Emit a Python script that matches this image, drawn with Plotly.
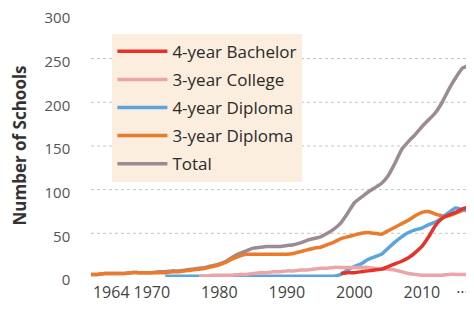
import plotly.graph_objects as go

years = list(range(1961, 2019))

total = [3, 3, 4, 4, 4, 4, 5, 5, 5,
         5, 6, 6, 7, 7, 8, 9, 10, 11, 13,
         15, 18, 23, 27, 30, 33, 34, 35, 35, 35,
         36, 37, 39, 42, 44, 46, 50, 55, 62, 73,
         85, 91, 97, 102, 107, 116, 130, 146, 155, 163,
         172, 180, 188, 200, 215, 228, 239, 242, 242]

diploma3 = [3, 3, 4, 4, 4, 4, 5, 5, 5,
            5, 5, 5, 6, 6, 7, 8, 9, 10, 12,
            14, 17, 21, 24, 26, 26, 26, 26, 26, 26,
            26, 27, 29, 31, 33, 34, 37, 40, 44, 46,
            48, 50, 51, 50, 49, 53, 57, 61, 65, 70,
            74, 75, 72, 70, 70, 73, 76, 78, 80]

N = None
diploma4 = [N] * 11 + [1] * 26 + [3, 8,
            12, 15, 20, 23, 26, 33, 40, 46, 51, 54,
            56, 60, 63, 68, 74, 79, 77, 75, 74]

bachelor4 = [N] * 37 + [4, 5,
             5, 6, 7, 8, 9, 12, 15, 18, 22, 28,
             35, 46, 59, 67, 71, 74, 78, 80, 82]

college3 = [N] * 16 + [1, 1, 2,
            2, 2, 2, 3, 3, 4, 5, 5, 6, 6,
            7, 7, 8, 8, 9, 10, 10, 11, 11, 11,
            11, 11, 11, 10, 9, 9, 8, 6, 4, 3,
            2, 2, 2, 2, 3, 3, 3, 3, 3]

series_names = ["4-year Bachelor", "3-year College", "4-year Diploma", "3-year Diploma", "Total"]
series_values = [bachelor4, college3, diploma4, diploma3, total]
series_colors = ["#e5332a", "#eba4a8", "#5ba4de", "#ec7a2b", "#9b8b93"]
series_z = [4, 3, 2, 1, 0]

x_tick_vals = [1964, 1970, 1980, 1990, 2000, 2010, 2016]
x_tick_text = ["1964", "1970", "1980", "1990", "2000", "2010", "···"]
y_tick_vals = [0, 50, 100, 150, 200, 250, 300]
grid_vals = [50, 100, 150, 200, 250]

FONT = "Open Sans"

fig = go.Figure()
for name, vals, col, z in zip(series_names, series_values, series_colors, series_z):
    fig.add_trace(go.Scatter(
        x=years, y=vals, name=name, mode="lines",
        line=dict(color=col, width=3.5, shape="spline", smoothing=0.4),
        zorder=z, legendgroup=name,
    ))

for g in grid_vals:
    fig.add_hline(y=g, line=dict(color="#c4c4c4", width=1, dash="3px,3px"), layer="below")

fig.update_layout(
    width=474, height=311,
    margin=dict(l=83, r=2, t=6, b=42),
    paper_bgcolor="white", plot_bgcolor="white",
    font=dict(family=FONT, color="#444"),
    showlegend=True,
    legend=dict(
        x=0.055, y=0.925, xanchor="left", yanchor="top",
        bgcolor="#fbeedf", borderwidth=0,
        font=dict(family=FONT, size=17, color="#2a2a2a"),
        traceorder="grouped", tracegroupgap=3,
        itemwidth=50,
    ),
    xaxis=dict(
        range=[1961, 2018.6], showgrid=False, zeroline=False,
        showline=True, linecolor="#9a9a9a", linewidth=2,
        tickvals=x_tick_vals, ticktext=x_tick_text, tickangle=0,
        ticks="", tickfont=dict(family=FONT, size=16, color="#444"),
        ticklabelstandoff=0, automargin=False, ticklabeloverflow="allow",
    ),
    yaxis=dict(
        range=[0, 301], showgrid=False, zeroline=False,
        showline=True, linecolor="#9a9a9a", linewidth=1.5,
        tickvals=y_tick_vals, ticks="",
        tickfont=dict(family=FONT, size=15, color="#555"),
        ticklabelstandoff=16, ticklabelshift=3, automargin=False,
        ticklabeloverflow="allow",
        title=dict(text="<b>Number of Schools</b>", font=dict(family=FONT, size=17, color="#333")),
    ),
)

fig.write_html("out.html")
